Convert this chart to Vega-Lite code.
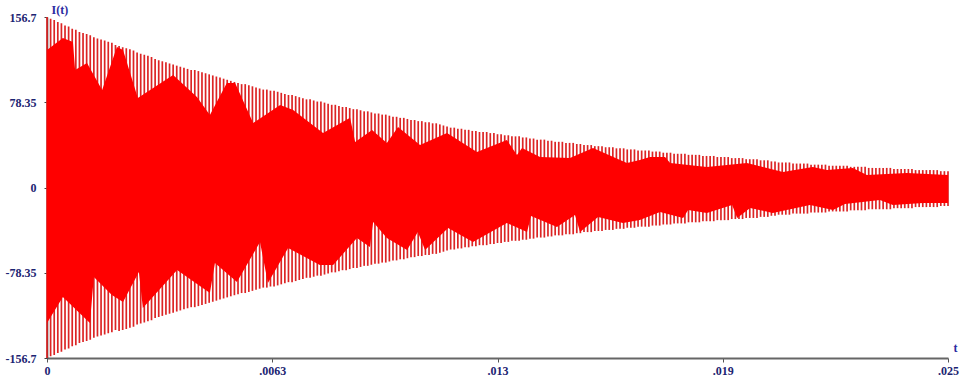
{
"$schema":"https://vega.github.io/schema/vega-lite/v6.json",
"width":901,"height":341,
"autosize":{"type":"none"},
"padding":{"left":47,"top":17,"right":12,"bottom":21},
"background":"white",
"config":{"view":{"stroke":null},"axis":{"grid":false}},
"datasets":{
"spikes":[
{"t":0,"h":156.7,"l":-156.7},{"t":0.0001,"h":155,"l":-155},{"t":0.0002,"h":154,"l":-154},{"t":0.0003,"h":152,"l":-152},{"t":0.0004,"h":151,"l":-151},{"t":0.0005,"h":149,"l":-149},{"t":0.0006,"h":148,"l":-148},{"t":0.0007,"h":146,"l":-146},{"t":0.0008,"h":145,"l":-145},{"t":0.0009,"h":143,"l":-143},
{"t":0.0010,"h":142,"l":-142},{"t":0.0011,"h":141,"l":-141},{"t":0.0012,"h":140,"l":-140},{"t":0.0013,"h":138,"l":-138},{"t":0.0014,"h":137,"l":-137},{"t":0.0015,"h":136,"l":-136},{"t":0.0016,"h":135,"l":-135},{"t":0.0017,"h":134,"l":-134},{"t":0.0018,"h":133,"l":-133},{"t":0.0019,"h":131,"l":-131},
{"t":0.0020,"h":130,"l":-132},{"t":0.0021,"h":129,"l":-131},{"t":0.0022,"h":128,"l":-130},{"t":0.0023,"h":127,"l":-129},{"t":0.0024,"h":126,"l":-128},{"t":0.0025,"h":124,"l":-126},{"t":0.0026,"h":123,"l":-125},{"t":0.0027,"h":122,"l":-124},{"t":0.0028,"h":121,"l":-123},{"t":0.0029,"h":120,"l":-122},
{"t":0.0030,"h":118,"l":-120},{"t":0.0031,"h":117,"l":-119},{"t":0.0032,"h":116,"l":-118},{"t":0.0033,"h":115,"l":-117},{"t":0.0034,"h":114,"l":-116},{"t":0.0035,"h":113,"l":-115},{"t":0.0036,"h":112,"l":-114},{"t":0.0037,"h":111,"l":-113},{"t":0.0038,"h":110,"l":-112},{"t":0.0039,"h":109,"l":-111},
{"t":0.0040,"h":108,"l":-110},{"t":0.0041,"h":108,"l":-110},{"t":0.0042,"h":107,"l":-109},{"t":0.0043,"h":106,"l":-108},{"t":0.0044,"h":105,"l":-107},{"t":0.0045,"h":104,"l":-106},{"t":0.0046,"h":103,"l":-105},{"t":0.0047,"h":102,"l":-104},{"t":0.0048,"h":101,"l":-103},{"t":0.0049,"h":100,"l":-102},
{"t":0.0050,"h":99,"l":-101},{"t":0.0051,"h":98,"l":-100},{"t":0.0052,"h":97,"l":-99},{"t":0.0053,"h":96,"l":-98},{"t":0.0054,"h":95,"l":-97},{"t":0.0055,"h":95,"l":-97},{"t":0.0056,"h":94,"l":-96},{"t":0.0057,"h":93,"l":-95},{"t":0.0058,"h":92,"l":-94},{"t":0.0059,"h":91,"l":-93},
{"t":0.0060,"h":90,"l":-92},{"t":0.0061,"h":90,"l":-92},{"t":0.0062,"h":89,"l":-91},{"t":0.0063,"h":89,"l":-91},{"t":0.0064,"h":88,"l":-90},{"t":0.0065,"h":87,"l":-89},{"t":0.0066,"h":86,"l":-88},{"t":0.0067,"h":85,"l":-87},{"t":0.0068,"h":85,"l":-87},{"t":0.0069,"h":84,"l":-86},
{"t":0.0070,"h":83,"l":-85},{"t":0.0071,"h":82,"l":-84},{"t":0.0072,"h":81,"l":-83},{"t":0.0073,"h":81,"l":-83},{"t":0.0074,"h":80,"l":-82},{"t":0.0075,"h":79,"l":-81},{"t":0.0076,"h":79,"l":-81},{"t":0.0077,"h":78,"l":-80},{"t":0.0078,"h":77,"l":-79},{"t":0.0079,"h":76,"l":-78},
{"t":0.0080,"h":76,"l":-78},{"t":0.0081,"h":75,"l":-77},{"t":0.0082,"h":74,"l":-76},{"t":0.0083,"h":74,"l":-76},{"t":0.0084,"h":73,"l":-75},{"t":0.0085,"h":72,"l":-74},{"t":0.0086,"h":72,"l":-74},{"t":0.0087,"h":71,"l":-73},{"t":0.0088,"h":70,"l":-72},{"t":0.0089,"h":70,"l":-72},
{"t":0.0090,"h":69,"l":-71},{"t":0.0091,"h":68,"l":-70},{"t":0.0092,"h":68,"l":-70},{"t":0.0093,"h":67,"l":-69},{"t":0.0094,"h":67,"l":-69},{"t":0.0095,"h":66,"l":-68},{"t":0.0096,"h":65,"l":-67},{"t":0.0097,"h":65,"l":-67},{"t":0.0098,"h":64,"l":-66},{"t":0.0099,"h":64,"l":-66},
{"t":0.0100,"h":63,"l":-65},{"t":0.0101,"h":62,"l":-64},{"t":0.0102,"h":62,"l":-64},{"t":0.0103,"h":61,"l":-63},{"t":0.0104,"h":61,"l":-63},{"t":0.0105,"h":60,"l":-62},{"t":0.0106,"h":60,"l":-62},{"t":0.0107,"h":59,"l":-61},{"t":0.0108,"h":59,"l":-61},{"t":0.0109,"h":58,"l":-60},
{"t":0.0110,"h":57,"l":-59},{"t":0.0111,"h":56,"l":-58},{"t":0.0112,"h":55,"l":-57},{"t":0.0113,"h":55,"l":-57},{"t":0.0114,"h":54,"l":-56},{"t":0.0115,"h":54,"l":-56},{"t":0.0116,"h":53,"l":-55},{"t":0.0117,"h":53,"l":-55},{"t":0.0118,"h":52,"l":-54},{"t":0.0119,"h":52,"l":-54},
{"t":0.0120,"h":51,"l":-53},{"t":0.0121,"h":51,"l":-53},{"t":0.0122,"h":51,"l":-53},{"t":0.0123,"h":50,"l":-52},{"t":0.0124,"h":50,"l":-52},{"t":0.0125,"h":49,"l":-51},{"t":0.0126,"h":49,"l":-51},{"t":0.0127,"h":48,"l":-50},{"t":0.0128,"h":48,"l":-50},{"t":0.0129,"h":47,"l":-49},
{"t":0.0130,"h":47,"l":-49},{"t":0.0131,"h":47,"l":-49},{"t":0.0132,"h":46,"l":-48},{"t":0.0133,"h":46,"l":-48},{"t":0.0134,"h":45,"l":-47},{"t":0.0135,"h":45,"l":-47},{"t":0.0136,"h":44,"l":-46},{"t":0.0137,"h":44,"l":-46},{"t":0.0138,"h":44,"l":-46},{"t":0.0139,"h":43,"l":-45},
{"t":0.0140,"h":43,"l":-45},{"t":0.0141,"h":42,"l":-44},{"t":0.0142,"h":42,"l":-44},{"t":0.0143,"h":42,"l":-44},{"t":0.0144,"h":41,"l":-43},{"t":0.0145,"h":41,"l":-43},{"t":0.0146,"h":41,"l":-43},{"t":0.0147,"h":40,"l":-42},{"t":0.0148,"h":40,"l":-42},{"t":0.0149,"h":39,"l":-41},
{"t":0.0150,"h":39,"l":-41},{"t":0.0151,"h":39,"l":-41},{"t":0.0152,"h":38,"l":-40},{"t":0.0153,"h":38,"l":-40},{"t":0.0154,"h":38,"l":-40},{"t":0.0155,"h":37,"l":-39},{"t":0.0156,"h":37,"l":-39},{"t":0.0157,"h":37,"l":-39},{"t":0.0158,"h":36,"l":-38},{"t":0.0159,"h":36,"l":-38},
{"t":0.0160,"h":36,"l":-38},{"t":0.0161,"h":35,"l":-37},{"t":0.0162,"h":35,"l":-37},{"t":0.0163,"h":35,"l":-37},{"t":0.0164,"h":34,"l":-36},{"t":0.0165,"h":34,"l":-36},{"t":0.0166,"h":34,"l":-36},{"t":0.0167,"h":34,"l":-36},{"t":0.0168,"h":33,"l":-35},{"t":0.0169,"h":33,"l":-35},
{"t":0.0170,"h":33,"l":-35},{"t":0.0171,"h":32,"l":-34},{"t":0.0172,"h":32,"l":-34},{"t":0.0173,"h":32,"l":-34},{"t":0.0174,"h":31,"l":-33},{"t":0.0175,"h":31,"l":-33},{"t":0.0176,"h":31,"l":-33},{"t":0.0177,"h":31,"l":-33},{"t":0.0178,"h":30,"l":-32},{"t":0.0179,"h":30,"l":-32},
{"t":0.0180,"h":30,"l":-32},{"t":0.0181,"h":30,"l":-32},{"t":0.0182,"h":29,"l":-31},{"t":0.0183,"h":29,"l":-31},{"t":0.0184,"h":29,"l":-31},{"t":0.0185,"h":29,"l":-31},{"t":0.0186,"h":28,"l":-30},{"t":0.0187,"h":28,"l":-30},{"t":0.0188,"h":28,"l":-30},{"t":0.0189,"h":28,"l":-30},
{"t":0.0190,"h":27,"l":-29},{"t":0.0191,"h":27,"l":-29},{"t":0.0192,"h":27,"l":-29},{"t":0.0193,"h":27,"l":-29},{"t":0.0194,"h":26,"l":-28},{"t":0.0195,"h":26,"l":-28},{"t":0.0196,"h":26,"l":-28},{"t":0.0197,"h":26,"l":-28},{"t":0.0198,"h":25,"l":-27},{"t":0.0199,"h":25,"l":-27},
{"t":0.0200,"h":25,"l":-27},{"t":0.0201,"h":24,"l":-26},{"t":0.0202,"h":24,"l":-26},{"t":0.0203,"h":23,"l":-25},{"t":0.0204,"h":23,"l":-25},{"t":0.0205,"h":23,"l":-25},{"t":0.0206,"h":23,"l":-25},{"t":0.0207,"h":22,"l":-24},{"t":0.0208,"h":22,"l":-24},{"t":0.0209,"h":22,"l":-24},
{"t":0.0210,"h":22,"l":-24},{"t":0.0211,"h":22,"l":-24},{"t":0.0212,"h":21,"l":-23},{"t":0.0213,"h":21,"l":-23},{"t":0.0214,"h":21,"l":-23},{"t":0.0215,"h":21,"l":-23},{"t":0.0216,"h":21,"l":-23},{"t":0.0217,"h":20,"l":-22},{"t":0.0218,"h":20,"l":-22},{"t":0.0219,"h":20,"l":-22},
{"t":0.0220,"h":20,"l":-22},{"t":0.0221,"h":20,"l":-22},{"t":0.0222,"h":20,"l":-22},{"t":0.0223,"h":19,"l":-21},{"t":0.0224,"h":19,"l":-21},{"t":0.0225,"h":19,"l":-21},{"t":0.0226,"h":19,"l":-21},{"t":0.0227,"h":19,"l":-21},{"t":0.0228,"h":18,"l":-20},{"t":0.0229,"h":18,"l":-20},
{"t":0.0230,"h":18,"l":-20},{"t":0.0231,"h":18,"l":-20},{"t":0.0232,"h":18,"l":-20},{"t":0.0233,"h":18,"l":-20},{"t":0.0234,"h":18,"l":-20},{"t":0.0235,"h":17,"l":-19},{"t":0.0236,"h":17,"l":-19},{"t":0.0237,"h":17,"l":-19},{"t":0.0238,"h":17,"l":-19},{"t":0.0239,"h":17,"l":-19},
{"t":0.0240,"h":17,"l":-19},{"t":0.0241,"h":16,"l":-18},{"t":0.0242,"h":16,"l":-18},{"t":0.0243,"h":16,"l":-18},{"t":0.0244,"h":16,"l":-18},{"t":0.0245,"h":16,"l":-18},{"t":0.0246,"h":16,"l":-18},{"t":0.0247,"h":16,"l":-18},{"t":0.0248,"h":15,"l":-17},{"t":0.0249,"h":15,"l":-17},
{"t":0.0250,"h":15,"l":-17}
],
"itop":[
{"t":0,"v":126.4},{"t":0.00044,"v":137.4},{"t":0.00072,"v":133.7},{"t":0.00078,"v":108.0},{"t":0.00111,"v":114.4},{"t":0.00153,"v":89.6},{"t":0.00194,"v":129.1},{"t":0.00211,"v":126.4},{"t":0.00252,"v":82.3},{"t":0.00350,"v":103.4},{"t":0.00416,"v":83.2},{"t":0.00452,"v":66.6},{"t":0.00499,"v":96.0},{"t":0.00522,"v":96.0},{"t":0.00572,"v":59.3},{"t":0.00647,"v":75.8},{"t":0.00683,"v":71.2},{"t":0.00766,"v":50.1},{"t":0.00841,"v":64.0},{"t":0.00855,"v":41.8},{"t":0.00902,"v":52.8},{"t":0.00943,"v":40.9},{"t":0.00974,"v":55.6},{"t":0.01035,"v":39.1},{"t":0.01110,"v":50.1},{"t":0.01193,"v":32.6},{"t":0.01276,"v":43.7},{"t":0.01304,"v":29.9},{"t":0.01318,"v":36.3},{"t":0.01368,"v":28.0},{"t":0.01451,"v":27.1},{"t":0.01515,"v":36.3},{"t":0.01609,"v":22.5},{"t":0.01645,"v":25.3},{"t":0.01673,"v":28.0},{"t":0.01715,"v":28.0},{"t":0.01729,"v":22.5},{"t":0.01831,"v":18.8},{"t":0.01942,"v":22.5},{"t":0.02042,"v":14.2},{"t":0.02125,"v":18.8},{"t":0.02164,"v":16.1},{"t":0.02236,"v":17.9},{"t":0.02275,"v":11.5},{"t":0.02386,"v":13.3},{"t":0.025,"v":11.5}
],
"ibot":[
{"t":0,"v":-124.5},{"t":0.00044,"v":-100.6},{"t":0.00119,"v":-124.5},{"t":0.00130,"v":-82.3},{"t":0.00180,"v":-98.8},{"t":0.00211,"v":-105.2},{"t":0.00255,"v":-77.7},{"t":0.00266,"v":-110.8},{"t":0.00361,"v":-75.8},{"t":0.00452,"v":-96.9},{"t":0.00466,"v":-69.4},{"t":0.00527,"v":-86.9},{"t":0.00591,"v":-50.1},{"t":0.00613,"v":-87.8},{"t":0.00669,"v":-55.6},{"t":0.00757,"v":-71.2},{"t":0.00794,"v":-71.2},{"t":0.00860,"v":-46.4},{"t":0.00896,"v":-54.7},{"t":0.00905,"v":-31.7},{"t":0.00943,"v":-46.4},{"t":0.00999,"v":-57.4},{"t":0.01029,"v":-40.9},{"t":0.01049,"v":-57.4},{"t":0.01113,"v":-37.2},{"t":0.01182,"v":-50.1},{"t":0.01276,"v":-32.6},{"t":0.01332,"v":-40.9},{"t":0.01343,"v":-26.2},{"t":0.01415,"v":-36.3},{"t":0.01465,"v":-25.3},{"t":0.01479,"v":-40.9},{"t":0.01529,"v":-27.1},{"t":0.01598,"v":-32.6},{"t":0.01645,"v":-29.9},{"t":0.01701,"v":-22.5},{"t":0.01765,"v":-28.0},{"t":0.01779,"v":-20.7},{"t":0.01831,"v":-23.4},{"t":0.01901,"v":-16.1},{"t":0.01915,"v":-28.0},{"t":0.01951,"v":-18.8},{"t":0.02014,"v":-23.4},{"t":0.02117,"v":-16.1},{"t":0.02181,"v":-20.7},{"t":0.02214,"v":-15.2},{"t":0.02311,"v":-11.5},{"t":0.02347,"v":-16.1},{"t":0.02431,"v":-14.2},{"t":0.025,"v":-14.2}
]
},
"layer":[
{"data":{"name":"spikes"},
 "mark":{"type":"rule","stroke":"#dc2424","strokeWidth":1.7},
 "encoding":{
  "x":{"field":"t","type":"quantitative","title":"t","scale":{"domain":[0,0.025],"nice":false,"zero":false},
   "axis":{"values":[0,0.00625,0.0125,0.01875,0.025],
    "labelExpr":"datum.value < 0.001 ? '0' : datum.value < 0.008 ? '.0063' : datum.value < 0.015 ? '.013' : datum.value < 0.02 ? '.019' : '.025'",
    "labelFont":"Liberation Serif","labelFontWeight":"bold","labelFontSize":12,"labelColor":"#1c2472","labelPadding":3,"labelFlush":false,"labelOverlap":false,
    "tickSize":4,"tickColor":"#555","domainColor":"#666","domainWidth":2,
    "titleFont":"Liberation Serif","titleFontWeight":"bold","titleFontSize":12,"titleColor":"#2a2aa0",
    "titleX":906,"titleY":-7,"titleAlign":"left","titleBaseline":"alphabetic"}},
  "y":{"field":"h","type":"quantitative","title":"I(t)","scale":{"domain":[-156.7,156.7],"nice":false,"zero":false},
   "axis":{"values":[-156.7,-78.35,0,78.35,156.7],"labelExpr":"'' + datum.value",
    "labelFont":"Liberation Serif","labelFontWeight":"bold","labelFontSize":12,"labelColor":"#1c2472","labelPadding":8,"labelOverlap":false,"labelBound":false,"labelFlush":false,
    "tickSize":3,"tickColor":"#444","domainColor":"#333","domainWidth":1.5,
    "titleAngle":0,"titleFont":"Liberation Serif","titleFontWeight":"bold","titleFontSize":12,"titleColor":"#2a2aa0",
    "titleX":4,"titleY":-4,"titleAlign":"left","titleBaseline":"alphabetic"}},
  "y2":{"field":"l"}}},
{"data":{"name":"itop"},
 "mark":{"type":"area","color":"#ff0000"},
 "encoding":{
  "x":{"field":"t","type":"quantitative","title":"t"},
  "y":{"field":"v","type":"quantitative","title":"I(t)"},
  "y2":{"datum":-4}}},
{"data":{"name":"ibot"},
 "mark":{"type":"area","color":"#ff0000"},
 "encoding":{
  "x":{"field":"t","type":"quantitative","title":"t"},
  "y":{"field":"v","type":"quantitative","title":"I(t)"},
  "y2":{"datum":4}}}
]
}
